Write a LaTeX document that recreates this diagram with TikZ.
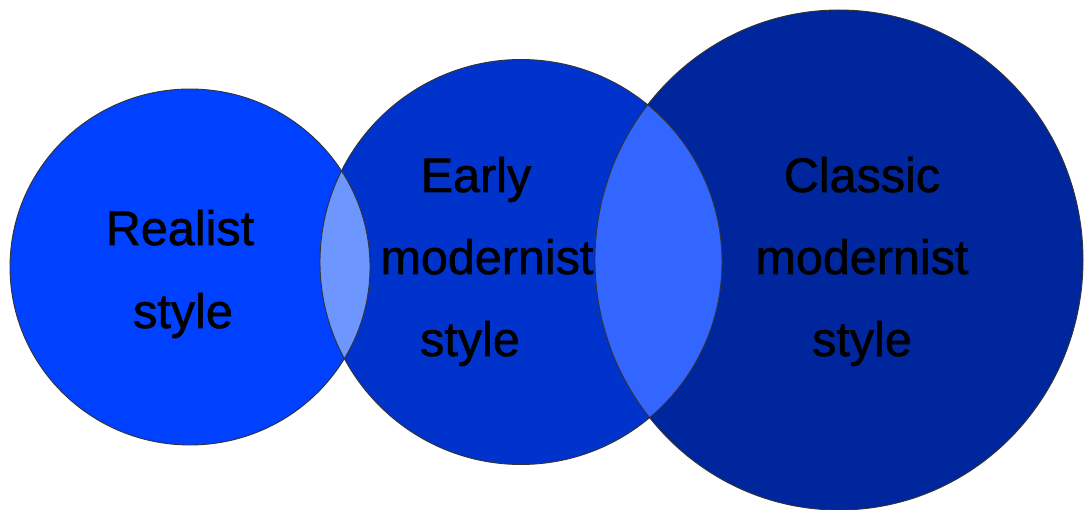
\documentclass[tikz,border=0pt]{standalone}
\usepackage{fontspec}
\setmainfont[FakeBold=1]{Liberation Sans}
\newfontfamily\lblfont[FakeBold=1.2]{Liberation Sans}
\definecolor{cleft}{HTML}{0040FF}
\definecolor{cmid}{HTML}{0033CC}
\definecolor{cright}{HTML}{00269E}
\definecolor{lensA}{HTML}{6E96FF}
\definecolor{lensB}{HTML}{3366FF}
\definecolor{edge}{HTML}{333333}
\begin{document}
\begin{tikzpicture}[x=1pt,y=-1pt,
  lbl/.style={anchor=base,inner sep=0pt,font=\lblfont\fontsize{48.5}{48}\selectfont,text=black},
  rim/.style={draw=edge,line width=0.9pt}]
\useasboundingbox (0,0) rectangle (1084,510);
\def\CL{(190,267) ellipse [x radius=180,y radius=178]}
\def\CM{(521,262) ellipse [x radius=201,y radius=202.5]}
\def\CR{(839,260) ellipse [x radius=244,y radius=250]}
\fill[cleft] \CL;
\fill[cmid] \CM;
\fill[cright] \CR;
\begin{scope}
  \clip \CL;
  \fill[lensA] \CM;
\end{scope}
\begin{scope}
  \clip \CM;
  \fill[lensB] \CR;
\end{scope}
\draw[rim] \CL;
\draw[rim] \CM;
\draw[rim] \CR;
\node[lbl] (l1) at (180,245) {Realist};
\node[lbl] (l2) at (183,328) {style};
\node[lbl] (m1) at (476,192) {Early};
\node[lbl] (m2) at (487,274) {modernist};
\node[lbl] (m3) at (470,356) {style};
\node[lbl] (r1) at (862,192) {Classic};
\node[lbl] (r2) at (862,274) {modernist};
\node[lbl] (r3) at (862,356) {style};
\end{tikzpicture}
\end{document}
